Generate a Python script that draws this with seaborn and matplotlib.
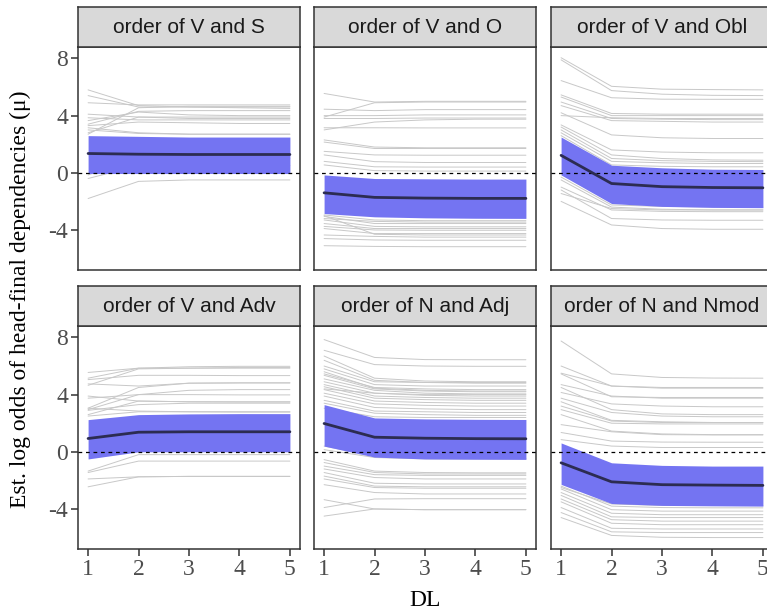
import numpy as np
import pandas as pd
import matplotlib
matplotlib.use('Agg')
import matplotlib.pyplot as plt
import seaborn as sns

dl = [1, 2, 3, 4, 5]

# per-language estimates (values at DL = 1..5)
vs_lines = [
    [5.8, 4.7, 4.6, 4.55, 4.5], [5.4, 4.6, 4.6, 4.6, 4.6], [4.9, 4.75, 4.75, 4.75, 4.75],
    [4.1, 3.9, 3.9, 3.9, 3.9], [3.85, 3.7, 3.7, 3.7, 3.7], [3.65, 4.25, 4.05, 4.0, 4.0],
    [3.4, 4.3, 4.35, 4.35, 4.35], [3.3, 3.55, 3.5, 3.45, 3.45], [3.15, 2.8, 2.7, 2.7, 2.7],
    [3.0, 2.75, 2.7, 2.7, 2.7], [2.8, 3.9, 3.8, 3.8, 3.8], [2.7, 4.55, 4.65, 4.65, 4.65],
    [-0.15, 1.0, 1.0, 1.0, 1.0], [-0.4, 0.5, 0.5, 0.5, 0.5], [-1.8, -0.6, -0.5, -0.5, -0.5],
]
vo_lines = [
    [5.55, 4.95, 5.0, 5.0, 5.0], [4.45, 4.35, 4.42, 4.42, 4.42], [3.9, 4.9, 4.95, 4.95, 4.95],
    [4.0, 4.0, 4.05, 4.05, 4.05], [3.8, 3.8, 3.83, 3.83, 3.83], [3.0, 3.55, 3.7, 3.75, 3.75],
    [3.15, 3.15, 3.14, 3.14, 3.14], [2.3, 1.8, 1.75, 1.75, 1.75], [2.15, 1.7, 1.7, 1.7, 1.7],
    [1.5, 1.25, 1.23, 1.23, 1.23], [1.25, 0.78, 0.72, 0.72, 0.72], [0.8, 0.42, 0.4, 0.4, 0.4],
    [0.55, 0.15, 0.12, 0.12, 0.12],
    [-2.95, -3.3, -3.35, -3.35, -3.35], [-3.05, -3.55, -3.55, -3.55, -3.55],
    [-3.2, -3.4, -3.45, -3.45, -3.45], [-3.3, -3.75, -3.78, -3.78, -3.78],
    [-3.55, -3.9, -3.9, -3.9, -3.9], [-3.75, -4.0, -4.02, -4.02, -4.02],
    [-3.9, -4.25, -4.25, -4.25, -4.25], [-4.35, -4.45, -4.5, -4.5, -4.5],
    [-4.6, -4.7, -4.72, -4.72, -4.72], [-5.1, -5.15, -5.17, -5.17, -5.17],
    [-3.0, -4.3, -4.35, -4.35, -4.35],
]
vobl_lines = [
    [8.05, 6.05, 5.85, 5.82, 5.8], [7.9, 5.75, 5.5, 5.42, 5.4], [6.45, 5.25, 5.15, 5.14, 5.14],
    [5.45, 4.15, 4.1, 4.1, 4.1], [5.3, 4.0, 4.0, 4.0, 4.0], [4.95, 3.8, 3.75, 3.72, 3.72],
    [4.7, 3.65, 3.6, 3.55, 3.55], [4.2, 2.65, 2.45, 2.4, 2.4], [4.0, 3.85, 3.8, 3.8, 3.8],
    [3.35, 1.6, 1.45, 1.4, 1.4], [3.2, 1.25, 1.0, 0.9, 0.88], [3.0, 1.0, 0.85, 0.8, 0.78],
    [2.8, 0.8, 0.7, 0.65, 0.65], [2.6, 0.55, 0.45, 0.42, 0.42],
    [-0.3, -2.25, -2.35, -2.38, -2.4], [-0.5, -2.4, -2.55, -2.6, -2.6],
    [-1.0, -2.6, -2.7, -2.72, -2.72], [-1.2, -3.2, -3.3, -3.32, -3.32],
    [-2.0, -3.65, -3.9, -3.95, -3.95], [-1.45, -2.5, -2.6, -2.6, -2.6],
]
vadv_lines = [
    [5.55, 5.85, 5.95, 5.98, 5.98], [5.15, 5.85, 5.85, 5.85, 5.85], [5.05, 5.35, 5.35, 5.33, 5.33],
    [4.75, 4.6, 4.8, 4.82, 4.82], [4.65, 5.8, 5.85, 5.9, 5.9], [3.9, 3.55, 3.5, 3.5, 3.5],
    [3.75, 4.0, 4.0, 3.98, 3.98], [3.05, 4.5, 4.8, 4.82, 4.82], [2.95, 4.0, 4.3, 4.35, 4.35],
    [2.6, 3.55, 3.5, 3.48, 3.48], [3.05, 2.85, 2.8, 2.78, 2.78], [2.5, 2.8, 2.8, 2.8, 2.8],
    [2.9, 3.3, 3.4, 3.4, 3.4],
    [-1.35, -0.2, -0.2, -0.2, -0.2], [-1.45, -0.65, -0.65, -0.65, -0.65],
    [-1.9, -1.75, -1.72, -1.72, -1.72], [-2.45, -1.75, -1.72, -1.72, -1.72],
]
nadj_lines = [
    [7.85, 6.6, 6.45, 6.44, 6.44], [7.1, 6.1, 6.0, 5.98, 5.98], [6.7, 5.15, 4.95, 4.9, 4.9],
    [6.4, 5.0, 4.85, 4.8, 4.8], [6.0, 4.9, 4.85, 4.85, 4.85], [5.8, 4.7, 4.6, 4.6, 4.6],
    [5.6, 4.45, 4.3, 4.25, 4.25], [5.45, 4.5, 4.4, 4.35, 4.35], [5.35, 4.4, 4.25, 4.2, 4.2],
    [5.1, 4.3, 4.1, 4.05, 4.05], [4.9, 4.1, 3.95, 3.9, 3.9], [4.7, 3.9, 3.8, 3.75, 3.75],
    [4.55, 3.75, 3.65, 3.6, 3.6], [4.4, 4.1, 4.0, 4.0, 4.0], [4.35, 3.55, 3.45, 3.4, 3.4],
    [4.1, 3.35, 3.25, 3.2, 3.2], [3.9, 3.1, 3.0, 2.95, 2.95], [3.6, 2.85, 2.8, 2.75, 2.75],
    [3.4, 2.7, 2.6, 2.55, 2.55], [3.05, 2.45, 2.4, 2.4, 2.4],
    [0.4, -0.3, -0.4, -0.45, -0.45], [0.15, -0.4, -0.5, -0.5, -0.5],
    [-0.55, -1.35, -1.45, -1.47, -1.47], [-0.75, -1.45, -1.55, -1.55, -1.55],
    [-1.0, -1.6, -1.65, -1.65, -1.65], [-1.2, -1.8, -1.9, -1.9, -1.9],
    [-1.45, -2.2, -2.25, -2.25, -2.25], [-1.7, -2.4, -2.45, -2.45, -2.45],
    [-1.9, -2.5, -2.55, -2.55, -2.55], [-2.3, -2.85, -2.95, -2.95, -2.95],
    [-3.35, -4.0, -4.05, -4.05, -4.05], [-3.9, -3.3, -3.28, -3.28, -3.28],
    [-4.5, -4.0, -4.05, -4.05, -4.05],
]
nnmod_lines = [
    [7.75, 5.45, 5.2, 5.16, 5.15], [6.0, 4.6, 4.5, 4.5, 4.5], [5.5, 4.6, 4.45, 4.45, 4.45],
    [5.45, 3.85, 3.8, 3.8, 3.8], [4.7, 3.9, 3.75, 3.75, 3.75], [4.5, 2.95, 2.65, 2.6, 2.6],
    [4.15, 3.35, 3.2, 3.15, 3.15], [3.75, 2.75, 2.5, 2.45, 2.45], [3.5, 2.2, 2.1, 2.05, 2.05],
    [3.2, 2.15, 2.05, 2.05, 2.05], [2.95, 2.0, 1.95, 1.95, 1.95], [2.6, 1.45, 1.25, 1.2, 1.2],
    [1.9, 1.4, 1.2, 1.18, 1.18], [1.35, 0.75, 0.68, 0.67, 0.67], [0.85, 0.4, 0.3, 0.3, 0.3],
    [-2.4, -3.8, -3.9, -3.92, -3.92], [-2.5, -3.65, -3.75, -3.75, -3.75],
    [-2.6, -4.05, -4.15, -4.15, -4.15], [-2.85, -4.3, -4.4, -4.4, -4.4],
    [-3.05, -4.55, -4.6, -4.6, -4.6], [-3.3, -4.75, -4.85, -4.85, -4.85],
    [-3.5, -5.0, -5.1, -5.1, -5.1], [-3.9, -5.35, -5.4, -5.4, -5.4],
    [-4.25, -5.6, -5.65, -5.65, -5.65], [-4.6, -5.85, -5.98, -6.0, -6.0],
]

# population-level estimate: mean and interval band
vs_mean, vs_lo, vs_hi = [1.35, 1.3, 1.28, 1.28, 1.28], [-0.05] * 5, [2.6, 2.55, 2.5, 2.5, 2.5]
vo_mean = [-1.4, -1.72, -1.77, -1.79, -1.79]
vo_lo = [-2.85, -3.08, -3.15, -3.18, -3.19]
vo_hi = [-0.15, -0.4, -0.42, -0.44, -0.44]
vobl_mean = [1.22, -0.75, -0.97, -1.03, -1.05]
vobl_lo = [-0.15, -2.15, -2.35, -2.42, -2.44]
vobl_hi = [2.5, 0.53, 0.35, 0.25, 0.23]
vadv_mean = [0.93, 1.37, 1.4, 1.4, 1.4]
vadv_lo = [-0.5, 0.0, 0.0, 0.0, 0.0]
vadv_hi = [2.25, 2.6, 2.65, 2.67, 2.67]
nadj_mean = [1.98, 1.02, 0.95, 0.92, 0.91]
nadj_lo = [0.4, -0.37, -0.5, -0.52, -0.53]
nadj_hi = [3.3, 2.37, 2.3, 2.27, 2.26]
nnmod_mean = [-0.77, -2.1, -2.3, -2.33, -2.35]
nnmod_lo = [-2.28, -3.62, -3.75, -3.78, -3.8]
nnmod_hi = [0.62, -0.77, -0.95, -1.0, -1.0]

titles = ['order of V and S', 'order of V and O', 'order of V and Obl',
          'order of V and Adv', 'order of N and Adj', 'order of N and Nmod']
panel_lines = [vs_lines, vo_lines, vobl_lines, vadv_lines, nadj_lines, nnmod_lines]
panel_mean = [vs_mean, vo_mean, vobl_mean, vadv_mean, nadj_mean, nnmod_mean]
panel_lo = [vs_lo, vo_lo, vobl_lo, vadv_lo, nadj_lo, nnmod_lo]
panel_hi = [vs_hi, vo_hi, vobl_hi, vadv_hi, nadj_hi, nnmod_hi]

sns.set_theme(style='white')
plt.rcParams['axes.unicode_minus'] = False
serif = ['Liberation Serif', 'DejaVu Serif']
sans = ['Liberation Sans', 'DejaVu Sans']

W, H = 767, 614
fig = plt.figure(figsize=(W / 100, H / 100), dpi=100)

col_x = [78, 314, 551]
row_y = [47, 326]
pw, ph = 222, 223
strip_h = 40

for i, title in enumerate(titles):
    r, c = divmod(i, 3)
    x0, y0 = col_x[c], row_y[r]
    ax = fig.add_axes([x0 / W, 1 - (y0 + ph) / H, pw / W, ph / H])

    rows = []
    for k, vals in enumerate(panel_lines[i]):
        for d, v in zip(dl, vals):
            rows.append({'lang': k, 'DL': d, 'value': v})
    df = pd.DataFrame(rows)
    sns.lineplot(data=df, x='DL', y='value', units='lang', estimator=None,
                 color='#c8c8c8', lw=0.7, ax=ax, zorder=1)

    ax.fill_between(dl, panel_lo[i], panel_hi[i], color='#7474f2', lw=0, zorder=2)
    ax.axhline(0, color='black', ls=(0, (3, 3)), lw=0.9, zorder=3)
    mdf = pd.DataFrame({'DL': dl, 'value': panel_mean[i]})
    sns.lineplot(data=mdf, x='DL', y='value', color='#2c2c52', lw=2.0, ax=ax, zorder=4)

    ax.set_xlim(0.8, 5.2)
    ax.set_ylim(-6.8, 8.8)
    ax.set_xticks(dl)
    ax.set_yticks([-4, 0, 4, 8])
    ax.set_xlabel('')
    ax.set_ylabel('')
    ax.tick_params(axis='both', length=5, width=1.1, color='#333333', labelcolor='#4d4d4d',
                   labelsize=17, pad=2)
    ax.tick_params(axis='x', bottom=(r == 1), labelbottom=(r == 1))
    ax.tick_params(axis='y', left=(c == 0), labelleft=(c == 0))
    for lab in ax.get_xticklabels() + ax.get_yticklabels():
        lab.set_family(serif)
    for sp in ax.spines.values():
        sp.set_color('#333333')
        sp.set_linewidth(1.1)

    sax = fig.add_axes([x0 / W, 1 - y0 / H, pw / W, strip_h / H])
    sax.set_facecolor('#d9d9d9')
    sax.set_xticks([])
    sax.set_yticks([])
    for sp in sax.spines.values():
        sp.set_color('#333333')
        sp.set_linewidth(1.1)
    sax.text(0.5, 0.48, title, ha='center', va='center', fontsize=15,
             color='#1a1a1a', family=sans, transform=sax.transAxes)

fig.text(20 / W, 1 - 299 / H, 'Est. log odds of head-final dependencies (\u03bc)',
         rotation=90, ha='center', va='center', fontsize=17, family=serif, color='black')
fig.text(425 / W, 1 - 600 / H, 'DL', ha='center', va='center', fontsize=17,
         family=serif, color='black')

fig.savefig('out.png', dpi=100)
